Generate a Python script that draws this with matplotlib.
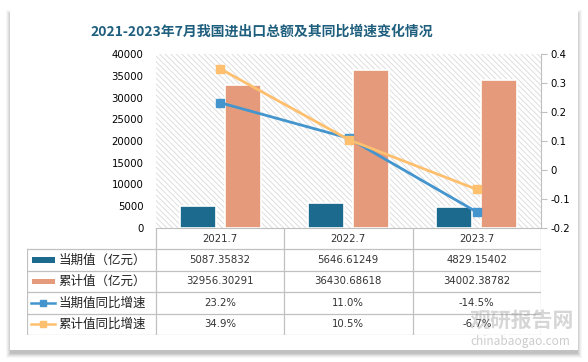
import numpy as np
import matplotlib.pyplot as plt
from matplotlib.patches import Rectangle

plt.rcParams['font.family'] = ['Noto Sans CJK SC', 'DejaVu Sans']
plt.rcParams['axes.unicode_minus'] = False
plt.rcParams['hatch.linewidth'] = 0.6

# data
cats = ['2021.7', '2022.7', '2023.7']
cur_val = [5087.35832, 5646.61249, 4829.15402]
cum_val = [32956.30291, 36430.68618, 34002.38782]
cur_yoy = [0.232, 0.110, -0.145]
cum_yoy = [0.349, 0.105, -0.067]
cur_txt = ['5087.35832', '5646.61249', '4829.15402']
cum_txt = ['32956.30291', '36430.68618', '34002.38782']
cur_yoy_txt = ['23.2%', '11.0%', '-14.5%']
cum_yoy_txt = ['34.9%', '10.5%', '-6.7%']
row_names = ['当期值（亿元）', '累计值（亿元）', '当期值同比增速', '累计值同比增速']

c_dark = '#1d6a8f'
c_salmon = '#e59b7b'
c_blue = '#4495cd'
c_orange = '#fec06f'
num_font = ['DejaVu Sans']

W, H = 588, 362
fig = plt.figure(figsize=(W / 100, H / 100), dpi=100)
fig.patch.set_facecolor('white')

def fx(px):
    return px / W

def fy(py):
    return 1 - py / H

# card with soft shadow
for i, a in enumerate([0.03, 0.04, 0.05, 0.06, 0.08]):
    d = 6 - i
    fig.patches.append(Rectangle((fx(10 - d + 2), fy(350 + d + 2)), fx(568 + 2 * d - 4), (340 + 2 * d - 4) / H,
                                 transform=fig.transFigure, facecolor='black', alpha=a, edgecolor='none', zorder=0))
fig.patches.append(Rectangle((fx(10), fy(350)), fx(568), 340 / H, transform=fig.transFigure,
                             facecolor='white', edgecolor='none', zorder=0.5))

fig.text(fx(262), fy(32), '2021-2023年7月我国进出口总额及其同比增速变化情况', ha='center', va='center',
         fontsize=10, fontweight='bold', color='#1f5f7e')

# main axes
L, R, T, B = 156, 541, 54, 228
ax = fig.add_axes([fx(L), fy(B), fx(R - L), (B - T) / H])
ax.set_zorder(2)
ax.patch.set_facecolor('white')
ax.add_patch(Rectangle((0, 0), 1, 1, transform=ax.transAxes, facecolor='none', edgecolor='#d9d9d9',
                       hatch='\\\\\\\\\\\\', linewidth=0, zorder=0))
x = np.arange(len(cats))
bw = 0.28
ax.bar(x - 0.175, cur_val, bw, color=c_dark, edgecolor='white', linewidth=1.2, zorder=3)
ax.bar(x + 0.175, cum_val, bw, color=c_salmon, edgecolor='white', linewidth=1.2, zorder=3)
ax.set_xlim(-0.5, 2.5)
ax.set_ylim(0, 40000)
ax.set_yticks(np.arange(0, 40001, 5000))
ax.tick_params(axis='y', length=0, labelsize=7.3, pad=9)
for lb in ax.get_yticklabels():
    lb.set_fontfamily(num_font)
ax.set_xticks([])
for s in ['top', 'right', 'left']:
    ax.spines[s].set_visible(False)
ax.spines['bottom'].set_color('#bfbfbf')

ax2 = ax.twinx()
ax2.plot(x, cur_yoy, color=c_blue, lw=2, marker='s', ms=6, zorder=4)
ax2.plot(x, cum_yoy, color=c_orange, lw=2, marker='s', ms=6, zorder=5)
ax2.set_ylim(-0.2, 0.4)
ax2.set_yticks([-0.2, -0.1, 0, 0.1, 0.2, 0.3, 0.4])
ax2.set_yticklabels(['-0.2', '-0.1', '0', '0.1', '0.2', '0.3', '0.4'])
ax2.tick_params(axis='y', labelsize=7.3, length=4, color='#bfbfbf', pad=3)
for lb in ax2.get_yticklabels():
    lb.set_fontfamily(num_font)
for s in ['top', 'left', 'bottom']:
    ax2.spines[s].set_visible(False)
ax2.spines['right'].set_color('#bfbfbf')

# table
TL, TB = 27, 335
tax = fig.add_axes([fx(TL), fy(TB), fx(R - TL), (TB - B) / H])
tax.set_zorder(3)
tax.patch.set_alpha(0)
tax.set_xlim(-1, 3)
tax.set_ylim(5, 0)
tax.axis('off')
gc = '#c0c0c0'
for xv in [0, 1, 2, 3]:
    tax.plot([xv, xv], [0, 5], color=gc, lw=0.9)
tax.plot([-1, -1], [1, 5], color=gc, lw=0.9)
for yv in [1, 2, 3, 4, 5]:
    tax.plot([-1, 3], [yv, yv], color=gc, lw=0.9)

rows = [cur_txt, cum_txt, cur_yoy_txt, cum_yoy_txt]
for j, c in enumerate(cats):
    tax.text(j + 0.5, 0.5, c, ha='center', va='center', fontsize=7.3, color='#333333', family=num_font)
    for i, r in enumerate(rows):
        tax.text(j + 0.5, i + 1.5, r[j], ha='center', va='center', fontsize=7.3, color='#333333',
                 family=num_font)

for i, name in enumerate(row_names):
    yc = i + 1.5
    if i < 2:
        col = c_dark if i == 0 else c_salmon
        tax.add_patch(Rectangle((-0.96, yc - 0.14), 0.175, 0.28, color=col, lw=0))
    else:
        col = c_blue if i == 2 else c_orange
        tax.plot([-0.965, -0.78], [yc, yc], color=col, lw=1.8)
        tax.plot([-0.872], [yc], color=col, marker='s', ms=5)
    tax.text(-0.755, yc, name, ha='left', va='center', fontsize=9, color='#222222')

# watermark
fig.text(fx(522), fy(320), '观研报告网', ha='center', va='center', fontsize=15, fontweight='bold',
         color='#999999', alpha=0.4, zorder=10)
fig.text(fx(520), fy(341), 'chinabaogao.com', ha='center', va='center', fontsize=8.5,
         color='#999999', alpha=0.5, zorder=10)

fig.savefig('out.png', dpi=100)
